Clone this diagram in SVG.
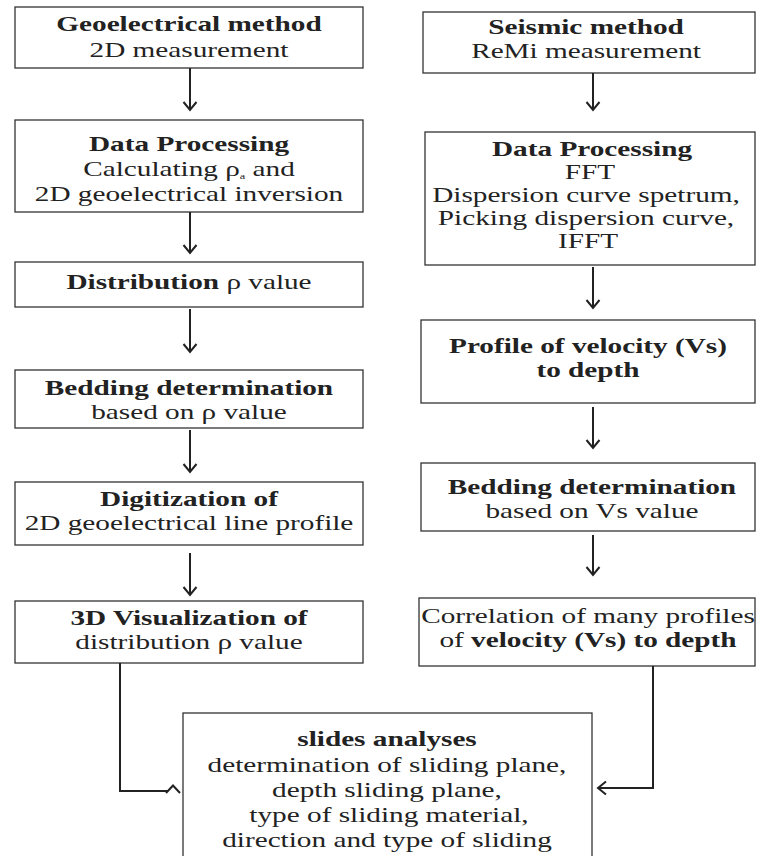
<svg xmlns="http://www.w3.org/2000/svg" width="757" height="856" viewBox="0 0 757 856">
<style>
.box{fill:#fff;stroke:#333;stroke-width:1.3}
.t{font-family:"Liberation Serif","Times New Roman",serif;font-size:21.5px;fill:#222;text-anchor:middle}
.b{font-weight:bold}
.c{fill:none;stroke:#222;stroke-width:2}
</style>
<defs>
<marker id="ah" viewBox="-10 -8 12 16" refX="0" refY="0" markerWidth="12" markerHeight="16" markerUnits="userSpaceOnUse" orient="auto">
<path d="M-8,-6.5 L0,0 L-8,6.5" fill="none" stroke="#222" stroke-width="2"/>
</marker>
</defs>
<rect width="757" height="856" fill="#fff"/>

<g id="geo-method">
<rect class="box" x="15" y="7" width="348" height="61"/>
<text class="t b" transform="translate(189,31) scale(1.36 1)">Geoelectrical method</text>
<text class="t" transform="translate(189,57) scale(1.36 1)">2D measurement</text>
</g>
<g id="geo-processing">
<rect class="box" x="15" y="120" width="348" height="92"/>
<text class="t b" transform="translate(189,151) scale(1.36 1)">Data Processing</text>
<text class="t" transform="translate(189,176) scale(1.36 1)">Calculating ρ<tspan font-size="9" dy="3">a</tspan><tspan dy="-3"> and</tspan></text>
<text class="t" transform="translate(189,201) scale(1.36 1)">2D geoelectrical inversion</text>
</g>
<g id="distribution">
<rect class="box" x="15" y="262" width="348" height="45"/>
<text class="t" transform="translate(189,289) scale(1.36 1)"><tspan class="b">Distribution</tspan> ρ value</text>
</g>
<g id="geo-bedding">
<rect class="box" x="15" y="370" width="348" height="58"/>
<text class="t b" transform="translate(189,395) scale(1.36 1)">Bedding determination</text>
<text class="t" transform="translate(189,419) scale(1.36 1)">based on  ρ value</text>
</g>
<g id="digitization">
<rect class="box" x="15" y="482" width="348" height="63"/>
<text class="t b" transform="translate(189,506) scale(1.36 1)">Digitization of</text>
<text class="t" transform="translate(189,530) scale(1.36 1)">2D geoelectrical line profile</text>
</g>
<g id="visualization">
<rect class="box" x="15" y="601" width="348" height="62"/>
<text class="t b" transform="translate(189,625) scale(1.36 1)">3D Visualization of</text>
<text class="t" transform="translate(189,649) scale(1.36 1)">distribution  ρ value</text>
</g>

<g id="seis-method">
<rect class="box" x="423" y="12" width="332" height="61"/>
<text class="t b" transform="translate(586,34) scale(1.36 1)">Seismic method</text>
<text class="t" transform="translate(586,58) scale(1.36 1)">ReMi measurement</text>
</g>
<g id="seis-processing">
<rect class="box" x="425" y="132" width="330" height="133"/>
<text class="t b" transform="translate(592,156) scale(1.36 1)">Data Processing</text>
<text class="t" transform="translate(590,179) scale(1.36 1)">FFT</text>
<text class="t" transform="translate(586,202) scale(1.36 1)">Dispersion curve spetrum,</text>
<text class="t" transform="translate(586,225) scale(1.36 1)">Picking dispersion  curve,</text>
<text class="t" transform="translate(588,248) scale(1.36 1)">IFFT</text>
</g>
<g id="profile">
<rect class="box" x="421" y="320" width="334" height="83"/>
<text class="t b" transform="translate(588,353) scale(1.36 1)">Profile of velocity (Vs)</text>
<text class="t b" transform="translate(588,377) scale(1.36 1)">to depth</text>
</g>
<g id="seis-bedding">
<rect class="box" x="421" y="463" width="334" height="68"/>
<text class="t b" transform="translate(592,494) scale(1.36 1)">Bedding determination</text>
<text class="t" transform="translate(592,518) scale(1.36 1)">based on Vs value</text>
</g>
<g id="correlation">
<rect class="box" x="419" y="598" width="336" height="68"/>
<text class="t" transform="translate(588,623) scale(1.36 1)">Correlation of many profiles</text>
<text class="t" transform="translate(588,647) scale(1.36 1)">of <tspan class="b">velocity (Vs) to depth</tspan></text>
</g>

<g id="slides-analyses">
<rect class="box" x="183" y="713" width="409" height="150"/>
<text class="t b" transform="translate(387,746) scale(1.36 1)">slides analyses</text>
<text class="t" transform="translate(387,772) scale(1.36 1)">determination of sliding plane,</text>
<text class="t" transform="translate(387,797) scale(1.36 1)">depth sliding plane,</text>
<text class="t" transform="translate(389,822) scale(1.36 1)">type of sliding material,</text>
<text class="t" transform="translate(387,847) scale(1.36 1)">direction and type of sliding</text>
</g>

<g id="connectors">
<line class="c" x1="190" y1="68" x2="190" y2="110" marker-end="url(#ah)"/>
<line class="c" x1="190" y1="212" x2="190" y2="253" marker-end="url(#ah)"/>
<line class="c" x1="190" y1="309" x2="190" y2="352" marker-end="url(#ah)"/>
<line class="c" x1="190" y1="430" x2="190" y2="472" marker-end="url(#ah)"/>
<line class="c" x1="190" y1="553" x2="190" y2="595" marker-end="url(#ah)"/>
<line class="c" x1="593" y1="73" x2="593" y2="110" marker-end="url(#ah)"/>
<line class="c" x1="593" y1="267" x2="593" y2="308" marker-end="url(#ah)"/>
<line class="c" x1="593" y1="407" x2="593" y2="448" marker-end="url(#ah)"/>
<line class="c" x1="593" y1="535" x2="593" y2="575" marker-end="url(#ah)"/>
<polyline class="c" points="120,663 120,791 168,791"/>
<path class="c" d="M166,793 L173,785.5 L180,793"/>
<polyline class="c" points="653,666 653,788 598,788" marker-end="url(#ah)"/>
</g>
</svg>
